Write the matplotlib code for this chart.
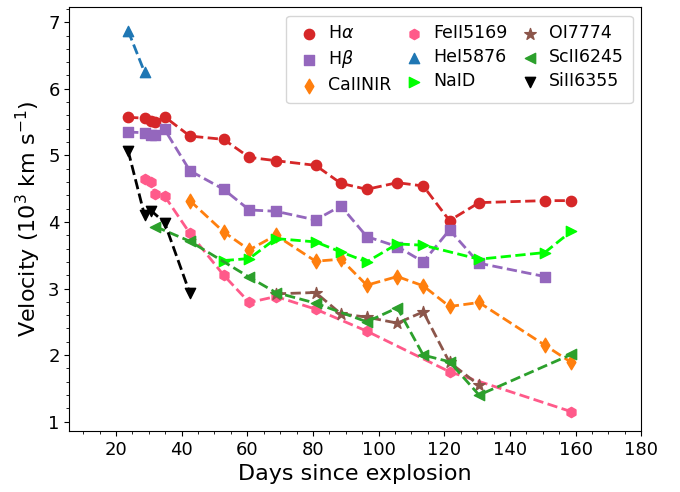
import matplotlib
matplotlib.use("Agg")
import matplotlib.pyplot as plt
from matplotlib.ticker import MultipleLocator

# epochs (days since explosion) and line velocities (10^3 km/s)
ha_days = [23.7, 28.7, 30.7, 32.0, 34.8, 42.5, 52.8, 60.6, 68.7, 80.8, 88.5, 96.4,
           105.7, 113.6, 121.6, 130.6, 150.6, 158.7]
ha_vel = [5.57, 5.56, 5.52, 5.50, 5.58, 5.29, 5.24, 4.97, 4.92, 4.85, 4.58, 4.49,
          4.59, 4.54, 4.02, 4.29, 4.32, 4.32]

hb_days = [23.7, 28.7, 30.7, 32.0, 34.8, 42.5, 52.8, 60.6, 68.7, 80.8, 88.5, 96.4,
           105.7, 113.6, 121.6, 130.6, 150.6]
hb_vel = [5.35, 5.34, 5.30, 5.31, 5.39, 4.77, 4.49, 4.18, 4.16, 4.03, 4.24, 3.78,
          3.63, 3.40, 3.88, 3.38, 3.18]

ca_days = [42.5, 52.8, 60.6, 68.7, 80.8, 88.5, 96.4, 105.7, 113.6, 121.6, 130.6, 150.6, 158.7]
ca_vel = [4.32, 3.85, 3.58, 3.80, 3.41, 3.44, 3.05, 3.18, 3.04, 2.73, 2.79, 2.15, 1.89]

fe_days = [28.7, 30.7, 32.0, 34.8, 42.5, 52.8, 60.6, 68.7, 80.8, 96.4, 121.6, 158.7]
fe_vel = [4.65, 4.60, 4.42, 4.39, 3.83, 3.20, 2.79, 2.88, 2.69, 2.36, 1.75, 1.15]

he_days = [23.7, 28.7]
he_vel = [6.87, 6.25]

na_days = [52.8, 60.6, 68.7, 80.8, 88.5, 96.4, 105.7, 113.6, 130.6, 150.6, 158.7]
na_vel = [3.42, 3.45, 3.75, 3.70, 3.55, 3.40, 3.67, 3.65, 3.44, 3.54, 3.86]

oi_days = [68.7, 80.8, 88.5, 96.4, 105.7, 113.6, 121.6, 130.6]
oi_vel = [2.92, 2.94, 2.62, 2.57, 2.48, 2.65, 1.89, 1.55]

sc_days = [32.0, 42.5, 60.6, 68.7, 80.8, 96.4, 105.7, 113.6, 121.6, 130.6, 158.7]
sc_vel = [3.93, 3.71, 3.17, 2.94, 2.78, 2.50, 2.71, 2.00, 1.90, 1.40, 2.01]

si_days = [23.7, 28.7, 30.7, 34.8, 42.5]
si_vel = [5.07, 4.10, 4.17, 3.99, 2.93]

series = [
    ("H$\\alpha$", ha_days, ha_vel, "o", "#d62728"),
    ("H$\\beta$", hb_days, hb_vel, "s", "#9467bd"),
    ("CaIINIR", ca_days, ca_vel, "d", "#ff7f0e"),
    ("FeII5169", fe_days, fe_vel, "h", "#ff5a8a"),
    ("HeI5876", he_days, he_vel, "^", "#1f77b4"),
    ("NaID", na_days, na_vel, ">", "#00ff00"),
    ("OI7774", oi_days, oi_vel, "*", "#8c564b"),
    ("ScII6245", sc_days, sc_vel, "<", "#2ca02c"),
    ("SiII6355", si_days, si_vel, "v", "black"),
]

fig = plt.figure(figsize=(6.8, 4.92), dpi=100)
ax = fig.add_axes([0.102, 0.124, 0.841, 0.862])

for i, (label, d, v, m, c) in enumerate(series):
    ax.plot(d, v, ls="--", lw=2, color=c, zorder=2 + 0.01 * i)
    ax.scatter(d, v, marker=m, s=55 if m != "*" else 75, color=c, label=label,
               zorder=2 + 0.01 * i)

ax.set_xlim(5.8, 180)
ax.set_ylim(0.86, 7.23)
ax.xaxis.set_major_locator(MultipleLocator(20))
ax.xaxis.set_minor_locator(MultipleLocator(5))
ax.yaxis.set_major_locator(MultipleLocator(1))
ax.yaxis.set_minor_locator(MultipleLocator(0.2))
ax.tick_params(labelsize=13)

ax.set_xlabel("Days since explosion", fontsize=16)
ax.set_ylabel("Velocity (10$^3$ km s$^{-1}$)", fontsize=16)
ax.legend(ncol=3, loc="upper right", fontsize=12.5, handlelength=1.6,
          handletextpad=0.3, columnspacing=0.5, labelspacing=0.35, borderpad=0.5,
          scatterpoints=1)

fig.savefig("out.png", dpi=100)
